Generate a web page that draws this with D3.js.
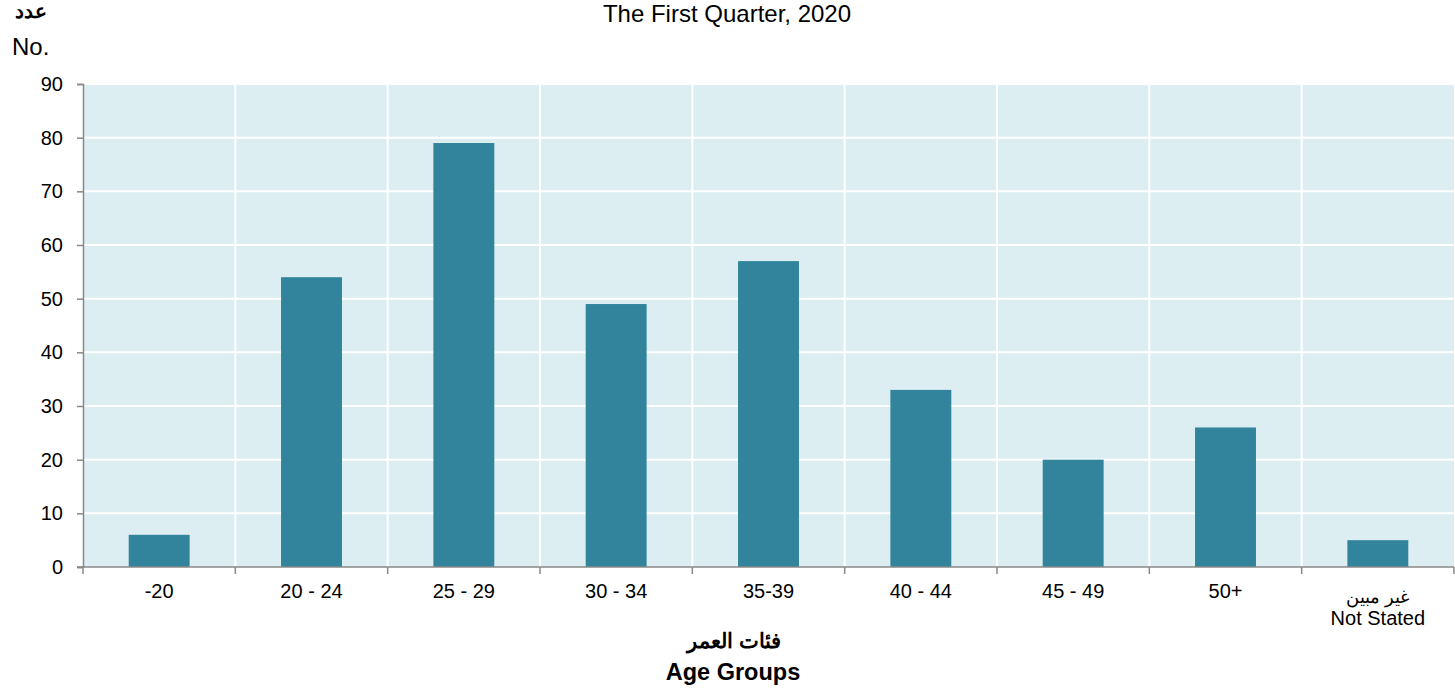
<!DOCTYPE html>
<html lang="en">
<head>
<meta charset="UTF-8">
<script src="https://d3js.org/d3.v7.min.js"></script>
<style>
  body { margin: 0; background: #fff; }
  text { font-family: "Liberation Sans", Arial, sans-serif; }
</style>
</head>
<body>
<script>
// data
const categories = ["-20", "20 - 24", "25 - 29", "30 - 34", "35-39", "40 - 44", "45 - 49", "50+", "Not Stated"];
const values = [6, 54, 79, 49, 57, 33, 20, 26, 5];
const yTicks = [0, 10, 20, 30, 40, 50, 60, 70, 80, 90];

const w = 1455, h = 688;
const plotLeft = 83, plotRight = 1454, plotTop = 84, plotBottom = 567;

const svg = d3.select("body").append("svg")
  .attr("width", w)
  .attr("height", h);

const x = d3.scaleBand()
  .domain(categories)
  .range([plotLeft, plotRight])
  .paddingInner(0.6)
  .paddingOuter(0.3);

const y = d3.scaleLinear()
  .domain([0, 90])
  .range([plotBottom, plotTop]);

// plot background
svg.append("rect")
  .attr("x", plotLeft).attr("y", plotTop)
  .attr("width", plotRight - plotLeft).attr("height", plotBottom - plotTop)
  .attr("fill", "#ddeef3");

// horizontal grid
svg.selectAll(".hgrid")
  .data(yTicks.slice(1))
  .enter().append("line")
  .attr("x1", plotLeft).attr("x2", plotRight)
  .attr("y1", d => y(d)).attr("y2", d => y(d))
  .attr("stroke", "#fff").attr("stroke-width", 2);

// vertical grid at category boundaries
const step = x.step();
const bounds = d3.range(categories.length + 1).map(i => plotLeft + i * step);
svg.selectAll(".vgrid")
  .data(bounds.slice(1, -1))
  .enter().append("line")
  .attr("x1", d => d).attr("x2", d => d)
  .attr("y1", plotTop).attr("y2", plotBottom)
  .attr("stroke", "#fff").attr("stroke-width", 2);

// bars
svg.selectAll(".bar")
  .data(values)
  .enter().append("rect")
  .attr("x", (d, i) => x(categories[i]))
  .attr("y", d => y(d))
  .attr("width", x.bandwidth())
  .attr("height", d => y(0) - y(d))
  .attr("fill", "#31849b");

// y axis
const yAxis = svg.append("g")
  .attr("transform", "translate(" + plotLeft + ",0)")
  .call(d3.axisLeft(y).tickValues(yTicks).tickSize(6).tickPadding(14));
yAxis.select(".domain").attr("stroke", "#888").attr("stroke-width", 1.5);
yAxis.selectAll(".tick line").attr("stroke", "#888").attr("stroke-width", 1.5);
yAxis.selectAll(".tick text")
  .attr("font-size", 20)
  .attr("fill", "#000")
  .style("font-family", "Liberation Sans, Arial, sans-serif");

// x axis line with boundary ticks
svg.append("line")
  .attr("x1", plotLeft - 6).attr("x2", plotRight)
  .attr("y1", plotBottom).attr("y2", plotBottom)
  .attr("stroke", "#888").attr("stroke-width", 1.5);
svg.selectAll(".xtick")
  .data(bounds)
  .enter().append("line")
  .attr("x1", d => d).attr("x2", d => d)
  .attr("y1", plotBottom).attr("y2", plotBottom + 7)
  .attr("stroke", "#888").attr("stroke-width", 1.5);

// x labels
svg.selectAll(".xlabel")
  .data(categories)
  .enter().append("text")
  .attr("x", d => x(d) + x.bandwidth() / 2)
  .attr("y", d => d === "Not Stated" ? 625 : 598)
  .attr("text-anchor", "middle")
  .attr("font-size", 20)
  .text(d => d);

svg.append("text")
  .attr("x", x("Not Stated") + x.bandwidth() / 2)
  .attr("y", 603)
  .attr("text-anchor", "middle")
  .attr("font-size", 18)
  .text("غير مبين");

// titles
svg.append("text")
  .attr("x", 727).attr("y", 22)
  .attr("text-anchor", "middle")
  .attr("font-size", 24)
  .text("The First Quarter, 2020");

svg.append("text")
  .attr("x", 31).attr("y", 18)
  .attr("text-anchor", "middle")
  .attr("font-size", 20)
  .attr("font-weight", "bold")
  .text("عدد");

svg.append("text")
  .attr("x", 12).attr("y", 55)
  .attr("font-size", 24)
  .text("No.");

svg.append("text")
  .attr("x", 734).attr("y", 648)
  .attr("text-anchor", "middle")
  .attr("font-size", 21)
  .attr("font-weight", "bold")
  .text("فئات العمر");

svg.append("text")
  .attr("x", 733).attr("y", 680)
  .attr("text-anchor", "middle")
  .attr("font-size", 23.5)
  .attr("font-weight", "bold")
  .text("Age Groups");
</script>
</body>
</html>
